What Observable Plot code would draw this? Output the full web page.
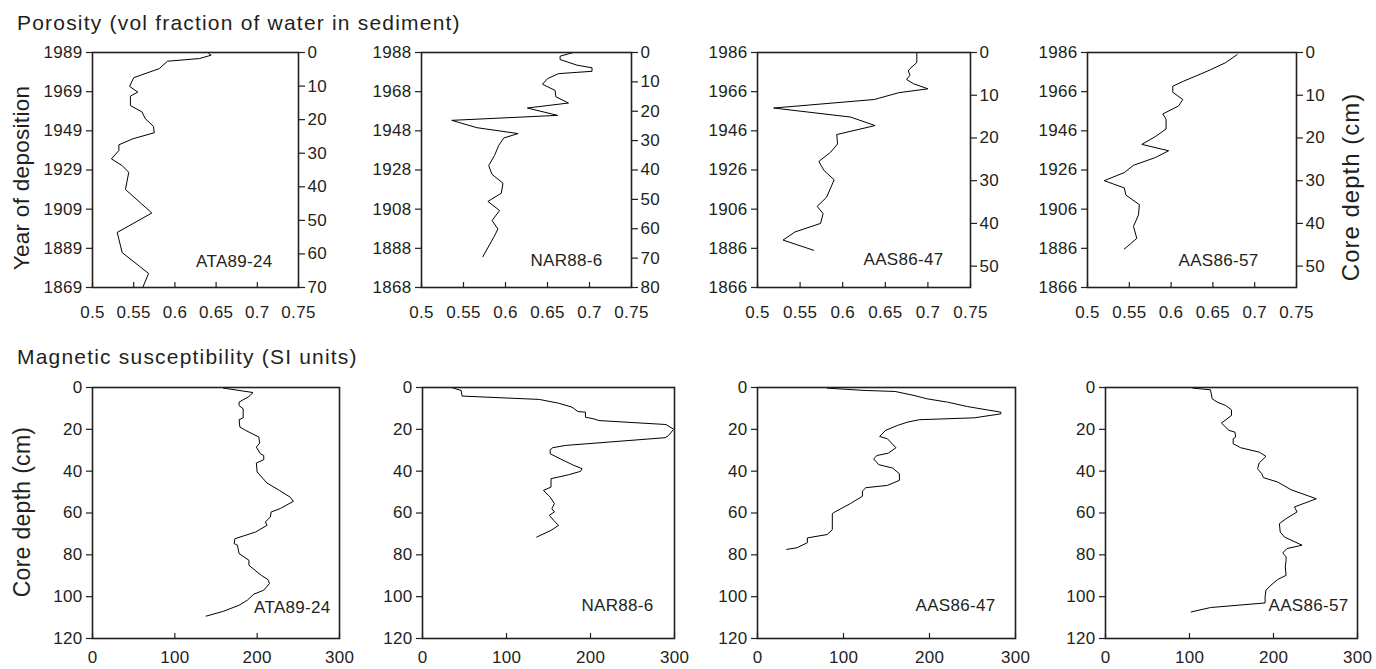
<!DOCTYPE html>
<html><head><meta charset="utf-8">
<script src="https://cdn.jsdelivr.net/npm/d3@7"></script>
<script src="https://cdn.jsdelivr.net/npm/@observablehq/plot@0.6"></script>
<style>
body{margin:0;background:#fff;}
#chart{position:relative;width:1376px;height:669px;font-family:"Liberation Sans",Arial,Helvetica,sans-serif;color:#231f20;overflow:hidden;background:#fff}
.title{position:absolute;font-size:21px;letter-spacing:1.2px;line-height:21px;white-space:nowrap}
.vlab{position:absolute;width:260px;height:26px;line-height:26px;text-align:center;transform:rotate(-90deg);white-space:nowrap}
.panel{position:absolute}
</style></head><body><div id="chart"></div><script>
// ---------- data ----------
const cores = ["ATA89-24", "NAR88-6", "AAS86-47", "AAS86-57"];
const titlePorosity = "Porosity (vol fraction of water in sediment)";
const titleMagnetic = "Magnetic susceptibility (SI units)";
const labelYear = "Year of deposition";
const labelDepth = "Core depth (cm)";

const porosityXTicks = [0.5, 0.55, 0.6, 0.65, 0.7, 0.75];
const magXTicks = [0, 100, 200, 300];
const magDepthTicks = [0, 20, 40, 60, 80, 100, 120];

const porDepthMax = [70, 80, 55, 55];
const porDepthTicks = [
  [0, 10, 20, 30, 40, 50, 60, 70],
  [0, 10, 20, 30, 40, 50, 60, 70, 80],
  [0, 10, 20, 30, 40, 50],
  [0, 10, 20, 30, 40, 50]
];
const porYearTicks = [
  [1989, 1969, 1949, 1929, 1909, 1889, 1869],
  [1988, 1968, 1948, 1928, 1908, 1888, 1868],
  [1986, 1966, 1946, 1926, 1906, 1886, 1866],
  [1986, 1966, 1946, 1926, 1906, 1886, 1866]
];

// [depth cm, porosity]
const porATA = [[0.3,0.641],[0.8,0.644],[1.8,0.630],[2.6,0.591],[4.8,0.581],[7.5,0.550],[10.1,0.545],[11.8,0.555],[13,0.546],[15.8,0.546],[17.7,0.560],[19.7,0.564],[22,0.574],[23.9,0.575],[25.7,0.549],[27.5,0.532],[29.2,0.532],[31.7,0.523],[33.7,0.536],[35.7,0.544],[40.8,0.540],[47.8,0.572],[53.6,0.530],[59.6,0.536],[65.8,0.568],[70,0.561]];
const porNAR = [[0,0.681],[1.25,0.665],[2.4,0.665],[4.3,0.685],[5.2,0.703],[6.4,0.703],[7.2,0.663],[8.9,0.650],[10.8,0.644],[12.9,0.659],[15.1,0.660],[17.2,0.675],[18.9,0.626],[21.4,0.662],[23.1,0.536],[25.6,0.566],[27.6,0.615],[29.1,0.598],[31.6,0.592],[35,0.587],[38.5,0.580],[41.5,0.584],[44.5,0.597],[47.9,0.595],[50.7,0.579],[53.8,0.593],[57.2,0.584],[60.1,0.591],[62.9,0.586],[69.5,0.573]];
const porAAS47 = [[0,0.687],[2.35,0.687],[3.76,0.679],[4.3,0.677],[5.3,0.679],[6.3,0.675],[7.3,0.683],[8.5,0.700],[9.4,0.666],[11,0.637],[13,0.519],[15.1,0.609],[17.1,0.638],[19.2,0.593],[21.4,0.594],[23.3,0.586],[25.5,0.572],[27.6,0.578],[29.8,0.590],[33.9,0.581],[36,0.570],[37.7,0.577],[40,0.574],[42,0.544],[43.9,0.530],[46.3,0.566]];
const porAAS57 = [[0.5,0.679],[2.4,0.665],[4.4,0.643],[6.7,0.615],[7.9,0.602],[9.3,0.602],[11,0.614],[12.5,0.609],[14.4,0.590],[15.6,0.594],[17.9,0.594],[19.7,0.581],[21.5,0.565],[23,0.597],[24.6,0.581],[26.4,0.555],[28.1,0.544],[30,0.520],[31.7,0.544],[33.4,0.546],[35.6,0.562],[38,0.561],[40.7,0.555],[43.5,0.559],[46,0.544]];

// [depth cm, magnetic susceptibility]
const magATA = [[0.3,159],[2.4,195],[4.3,190],[7,178],[8.6,178],[10.2,183],[14.5,183],[15.4,178],[18.9,179],[20.5,186],[23.7,202],[26.6,203],[28.5,199],[31.7,204],[32.5,208],[34.5,208],[36.1,199],[40.4,200],[45.7,212],[49.2,227],[52.4,240],[54.4,244],[57.9,228],[59.5,217],[61.9,216],[64.3,210],[65.9,212],[69.1,198],[72.3,173],[74.6,172],[75.4,176],[79.4,178],[82.6,190],[85,190],[89.8,205],[91.8,213],[93.7,215],[96.9,208],[98.8,196],[101.7,188],[104.1,178],[107,159],[109.3,138]];
const magNAR = [[0.2,36],[1.4,46],[3.8,47],[4.1,47],[5.7,139],[7.5,162],[9.4,178],[11.5,185],[11.8,194],[14.2,194],[15,204],[15.8,210],[17.7,290],[20,299],[22.9,293],[24,289],[27.7,170],[28.8,155],[29.8,152],[31.7,152],[34.1,164],[37.2,180],[38.8,190],[40.1,188],[41.7,174],[43.6,153],[47.6,153],[49.2,144],[52.4,152],[55.5,157],[57.9,154],[59.5,157],[61.1,151],[63.5,156],[65.9,162],[68.3,153],[71.5,136]];
const magAAS47 = [[0.3,81],[1.4,124],[1.9,160],[3.8,182],[5.4,197],[7,221],[9.1,244],[10.7,267],[11.8,283],[12.6,283],[14.5,252],[15.4,188],[16.6,174],[18.1,163],[20.5,149],[23.4,142],[24.5,151],[28.8,161],[31.4,152],[32.5,139],[34.1,135],[36.9,141],[38.5,157],[41.2,165],[44.4,165],[46.8,151],[47.9,126],[49.5,122],[52,122],[55.5,108],[59.5,90],[60.3,87],[68,87],[70.3,81],[71.9,58],[74.2,58],[76.6,46],[77.4,34]];
const magAAS57 = [[0.3,104],[1.1,125],[5.4,127],[7,133],[8.6,143],[10.7,150],[13.4,150],[17,138],[20.5,147],[21.3,154],[23.7,155],[24.5,152],[26.9,152],[28.8,161],[30.9,183],[32.9,191],[36.1,183],[38.8,181],[41.2,186],[43.1,188],[45.2,205],[48.9,221],[53.2,251],[57.1,225],[59.5,228],[62.7,215],[65.1,207],[69.1,208],[71.5,213],[75.4,234],[77,216],[79.1,211],[81,215],[82.6,215],[85.8,214],[89.8,215],[91.8,205],[94.5,197],[96.9,191],[100.1,190],[103,190],[105.2,125],[107.3,102]];

const porSeries = [porATA, porNAR, porAAS47, porAAS57];
const magSeries = [magATA, magNAR, magAAS47, magAAS57];

// ---------- layout ----------
const ink = "#231f20";
const font = "'Liberation Sans', Arial, Helvetica, sans-serif";
const topLayout = [
  {left: 0,    width: 345, mL: 92, mR: 47, ldx: -26, ldy: -21},
  {left: 345,  width: 355, mL: 76, mR: 69, ldx: -29, ldy: -22},
  {left: 700,  width: 330, mL: 57, mR: 60, ldx: -27, ldy: -23},
  {left: 1030, width: 346, mL: 57, mR: 80, ldx: -38, ldy: -22}
];
const botLayout = [
  {left: 0,    width: 380, mL: 92, mR: 41, ldx: -9,  ldy: -26},
  {left: 380,  width: 335, mL: 42, mR: 41, ldx: -21, ldy: -28},
  {left: 715,  width: 345, mL: 42, mR: 45, ldx: -20, ldy: -28},
  {left: 1060, width: 316, mL: 45, mR: 19, ldx: -9,  ldy: -28}
];
const topRow = {top: 40, mT: 12, mB: 35, height: 282};
const botRow = {top: 375, mT: 12, mB: 31, height: 294};

const chart = document.getElementById("chart");
const svgStyle = {background: "transparent", overflow: "visible", fontFamily: font, fontSize: "17px", color: ink, letterSpacing: "0.3px"};

function place(el, left, top) {
  const wrap = document.createElement("div");
  wrap.className = "panel";
  wrap.style.left = left + "px";
  wrap.style.top = top + "px";
  wrap.appendChild(el);
  chart.appendChild(wrap);
}

cores.forEach((name, i) => {
  const L = topLayout[i];
  const years = porYearTicks[i];
  const yMax = porDepthMax[i];
  const yTop = years[0], yBot = years[years.length - 1];
  const yearDepth = years.map(yr => (yTop - yr) / (yTop - yBot) * yMax);
  const fmtYear = d => String(Math.round(yTop - d / yMax * (yTop - yBot)));
  const p = Plot.plot({
    width: L.width, height: topRow.height,
    marginLeft: L.mL, marginRight: L.mR, marginTop: topRow.mT, marginBottom: topRow.mB,
    style: svgStyle,
    x: {domain: [0.5, 0.75]},
    y: {domain: [0, yMax], reverse: true},
    marks: [
      Plot.axisX(porosityXTicks, {tickSize: -5, fill: "none", label: null, strokeWidth: 1.2}),
      Plot.axisX(porosityXTicks, {tickSize: 0, tickPadding: 18, tickFormat: d => String(d), label: null}),
      Plot.axisY(yearDepth, {anchor: "left", tickSize: 6, tickPadding: 4, tickFormat: fmtYear, label: null, strokeWidth: 1.2}),
      Plot.axisY(porDepthTicks[i], {anchor: "right", tickSize: 6, tickPadding: 3, tickFormat: d => String(d), label: null, strokeWidth: 1.2}),
      Plot.line(porSeries[i], {x: d => d[1], y: d => d[0], stroke: "#000", strokeWidth: 1}),
      Plot.frame({stroke: ink, strokeWidth: 1.6}),
      Plot.text([name], {text: d => d, frameAnchor: "bottom-right", textAnchor: "end", dx: L.ldx, dy: L.ldy, fontSize: 17, fill: ink})
    ]
  });
  place(p, L.left, topRow.top);
});

cores.forEach((name, i) => {
  const L = botLayout[i];
  const p = Plot.plot({
    width: L.width, height: botRow.height,
    marginLeft: L.mL, marginRight: L.mR, marginTop: botRow.mT, marginBottom: botRow.mB,
    style: svgStyle,
    x: {domain: [0, 300]},
    y: {domain: [0, 120], reverse: true},
    marks: [
      Plot.axisX(magXTicks, {tickSize: -5, fill: "none", label: null, strokeWidth: 1.2}),
      Plot.axisX(magXTicks, {tickSize: 0, tickPadding: 12, tickFormat: d => String(d), label: null}),
      Plot.axisY(magDepthTicks, {anchor: "left", tickSize: 6, tickPadding: 4, tickFormat: d => String(d), label: null, strokeWidth: 1.2}),
      Plot.line(magSeries[i], {x: d => d[1], y: d => d[0], stroke: "#000", strokeWidth: 1}),
      Plot.frame({stroke: ink, strokeWidth: 1.6}),
      Plot.text([name], {text: d => d, frameAnchor: "bottom-right", textAnchor: "end", dx: L.ldx, dy: L.ldy, fontSize: 17, fill: ink})
    ]
  });
  place(p, L.left, botRow.top);
});

// ---------- titles & axis labels ----------
function addTitle(text, left, top) {
  const d = document.createElement("div");
  d.className = "title";
  d.textContent = text;
  d.style.left = left + "px";
  d.style.top = top + "px";
  chart.appendChild(d);
}
function addVLabel(text, cx, cy, size, ls) {
  const d = document.createElement("div");
  d.className = "vlab";
  d.textContent = text;
  d.style.left = (cx - 130) + "px";
  d.style.top = (cy - 13) + "px";
  d.style.fontSize = size + "px";
  d.style.letterSpacing = ls + "px";
  chart.appendChild(d);
}
addTitle(titlePorosity, 17, 12);
addTitle(titleMagnetic, 17, 346);
addVLabel(labelYear, 22, 178, 22.5, 0.3);
addVLabel(labelDepth, 1351, 187, 24, 1.0);
addVLabel(labelDepth, 22, 512, 23, 0.3);
</script></body></html>
